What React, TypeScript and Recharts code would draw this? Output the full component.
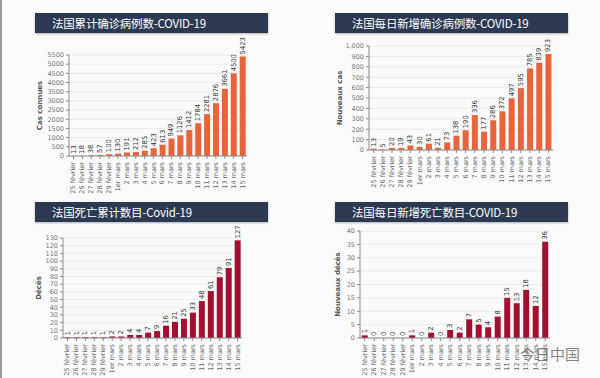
import { BarChart, Bar, XAxis, YAxis, CartesianGrid } from "recharts";

// dates on the x axis, shared by all four panels
const DAYS = [
  "25 février", "26 février", "27 février", "28 février", "29 février",
  "1er mars", "2 mars", "3 mars", "4 mars", "5 mars", "6 mars", "7 mars",
  "8 mars", "9 mars", "10 mars", "11 mars", "12 mars", "13 mars", "14 mars", "15 mars",
];

const CUM_CASES = [13, 18, 38, 57, 100, 130, 191, 212, 285, 423, 613, 949, 1126, 1412, 1784, 2281, 2876, 3661, 4500, 5423];
const NEW_CASES = [13, 5, 20, 19, 43, 30, 61, 21, 73, 138, 190, 336, 177, 286, 372, 497, 595, 785, 839, 923];
const CUM_DEATHS = [1, 1, 1, 1, 1, 2, 2, 4, 4, 7, 9, 16, 21, 25, 33, 48, 61, 79, 91, 127];
const NEW_DEATHS = [1, 0, 0, 0, 0, 1, 0, 2, 0, 3, 2, 7, 5, 4, 8, 15, 13, 18, 12, 36];

const TICKS_CUM_CASES = [0, 500, 1000, 1500, 2000, 2500, 3000, 3500, 4000, 4500, 5000, 5500];
const TICKS_NEW_CASES = [0, 100, 200, 300, 400, 500, 600, 700, 800, 900, 1000];
const TICKS_CUM_DEATHS = [0, 10, 20, 30, 40, 50, 60, 70, 80, 90, 100, 110, 120, 130];
const TICKS_NEW_DEATHS = [0, 5, 10, 15, 20, 25, 30, 35, 40];

const ORANGE = "#e8643a";
const CRIMSON = "#a3102f";
const AXIS = "#8a8a8a";
const TICK_FONT = "'DejaVu Sans', sans-serif";

const toRows = (values: number[]) => DAYS.map((day, i) => ({ day, value: values[i] }));

const XTick = (props: any) => {
  const { x, y, payload } = props;
  return (
    <text x={x} y={y + 1} transform={`rotate(-90, ${x}, ${y + 1})`} textAnchor="end"
      dominantBaseline="central" fontSize={6.5} fill="#666" fontFamily={TICK_FONT}>
      {payload.value}
    </text>
  );
};

// bar + its rotated value label (so zero bars still get their "0")
const barWithLabel = (color: string) => (props: any) => {
  const { x, y, width, height, payload } = props;
  const cx = x + width / 2;
  const cy = y - 2;
  return (
    <g>
      {height > 0 && <rect x={x} y={y} width={width} height={height} fill={color} />}
      <text x={cx} y={cy} transform={`rotate(-90, ${cx}, ${cy})`} textAnchor="start"
        dominantBaseline="central" fontSize={6.8} fill="#333" fontFamily={TICK_FONT}>
        {payload.value}
      </text>
    </g>
  );
};

type PanelProps = {
  title: string;
  left: number;
  top: number;
  chartTop: number;
  height: number;
  margin: { top: number; right: number; left: number; bottom: number };
  yWidth: number;
  xHeight: number;
  values: number[];
  ticks: number[];
  color: string;
  yLabel: string;
  fmt?: (v: number) => string;
};

function Panel(p: PanelProps) {
  const max = p.ticks[p.ticks.length - 1];
  return (
    <>
      <div style={{
        position: "absolute", left: p.left + 35, top: p.top, width: 233, height: 20,
        background: "#2b3953", color: "#fff", fontFamily: "'Noto Sans CJK SC', sans-serif",
        fontSize: 11.5, letterSpacing: -0.2, lineHeight: "20px", paddingLeft: 17, boxSizing: "border-box",
        boxShadow: "0 1px 2px rgba(0,0,0,0.3)", whiteSpace: "nowrap",
      }}>
        {p.title}
      </div>
      <div style={{ position: "absolute", left: p.left, top: p.chartTop }}>
        <BarChart width={300} height={p.height} data={toRows(p.values)} margin={p.margin} barCategoryGap="18%">
          <CartesianGrid vertical={false} stroke="#ececec" />
          <XAxis dataKey="day" interval={0} height={p.xHeight} tick={<XTick />} stroke={AXIS}
            tickSize={3} />
          <YAxis domain={[0, max]} ticks={p.ticks} interval={0} width={p.yWidth} stroke={AXIS} tickSize={3}
            tick={{ fontSize: 6.5, fill: "#777", fontFamily: TICK_FONT }}
            tickFormatter={p.fmt}
            label={{ value: p.yLabel, angle: -90, position: "center", fontSize: 7, fill: "#555",
              fontFamily: TICK_FONT, fontWeight: "bold" }} />
          <Bar dataKey="value" fill={p.color} isAnimationActive={false} shape={barWithLabel(p.color)} />
        </BarChart>
      </div>
    </>
  );
}

export default function App() {
  return (
    <div style={{ position: "fixed", left: 0, top: 0, width: 600, height: 378, background: "#fbfbfb", overflow: "hidden" }}>
      <div style={{ position: "absolute", left: 0, top: 0, width: 2, height: 378, background: "#9a9a9a" }} />
      <Panel title="法国累计确诊病例数-COVID-19" left={0} top={13} chartTop={35} height={165}
        margin={{ top: 20, right: 53, left: 10, bottom: 0 }} yWidth={59} xHeight={44}
        values={CUM_CASES} ticks={TICKS_CUM_CASES} color={ORANGE} yLabel="Cas connues" />
      <Panel title="法国每日新增确诊病例数-COVID-19" left={300} top={13} chartTop={30} height={162}
        margin={{ top: 16, right: 47, left: 11, bottom: 0 }} yWidth={58} xHeight={42}
        values={NEW_CASES} ticks={TICKS_NEW_CASES} color={ORANGE} yLabel="Nouveaux cas"
        fmt={(v) => v.toLocaleString("en-US")} />
      <Panel title="法国死亡累计数目-Covid-19" left={0} top={202} chartTop={222} height={154}
        margin={{ top: 16, right: 58, left: 15, bottom: 0 }} yWidth={48} xHeight={38}
        values={CUM_DEATHS} ticks={TICKS_CUM_DEATHS} color={CRIMSON} yLabel="Décès" />
      <Panel title="法国每日新增死亡数目-COVID-19" left={300} top={202} chartTop={222} height={154}
        margin={{ top: 9, right: 50, left: 16, bottom: 0 }} yWidth={44} xHeight={38}
        values={NEW_DEATHS} ticks={TICKS_NEW_DEATHS} color={CRIMSON} yLabel="Nouveaux décès" />
      <div style={{
        position: "absolute", left: 520, top: 343, fontFamily: "'Noto Sans CJK SC', sans-serif",
        fontSize: 15, color: "rgba(90,90,90,0.75)",
      }}>
        今日中国
      </div>
    </div>
  );
}
